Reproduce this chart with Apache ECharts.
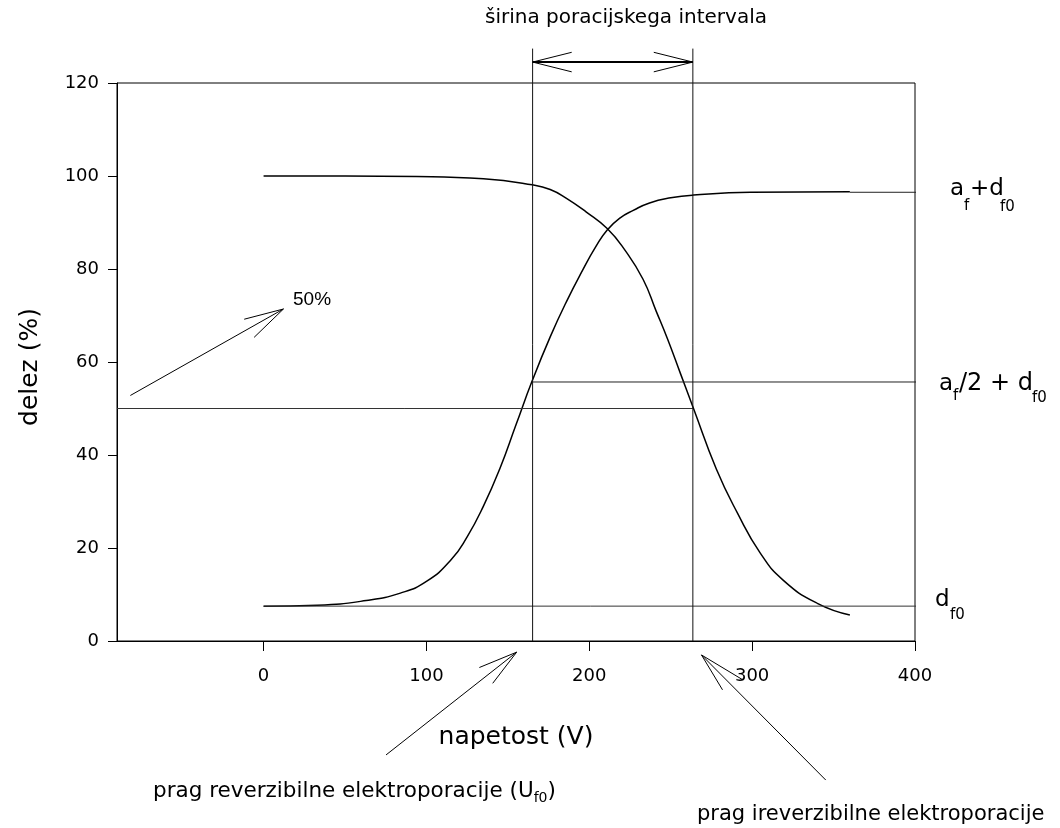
<!DOCTYPE html>
<html><head><meta charset="utf-8">
<script src="https://cdn.jsdelivr.net/npm/echarts@6/dist/echarts.min.js"></script>
<style>html,body{margin:0;padding:0;background:#fff}#c{width:1060px;height:828px}</style>
</head><body><div id="c"></div>
<script>
// ---- data ----
const xTicks = [0, 100, 200, 300, 400];
const yTicks = [0, 20, 40, 60, 80, 100, 120];
const riseX = [0, 33, 63, 84, 100, 115, 125, 135, 145, 155, 165, 176, 186, 196, 204, 211, 219, 227, 237, 250, 264, 299, 360];
const riseY = [7.5, 7.7, 8.7, 10.3, 12.8, 17.4, 22.4, 29.0, 37.0, 46.5, 56.0, 65.4, 73.0, 79.8, 84.8, 88.4, 91.0, 92.6, 94.2, 95.3, 95.9, 96.5, 96.6];
const fallX = [0, 50, 94, 135, 165, 176, 186, 198, 211, 222, 233, 241, 248, 256, 264, 278, 291, 305, 319, 340, 360];
const fallY = [100, 100, 99.9, 99.4, 98.1, 97.1, 95.2, 92.3, 88.7, 84.0, 77.8, 71.0, 65.0, 57.5, 50.0, 37.0, 27.5, 18.9, 13.1, 8.1, 5.6];
const levelTop = [[360, 96.5], [406, 96.5]];
const levelHalf = [[165.2, 55.7], [406, 55.7]];
const levelD0 = [[0, 7.5], [404, 7.5]];
const level50 = [[-90, 50], [263.6, 50]];
const vRev = [[165.2, 0], [165.2, 127.4]];
const vIrr = [[263.6, 0], [263.6, 127.4]];
const widthShaft = [[165.2, 124.5], [263.6, 124.5]];
const widthHeadL = [[189.2, 126.6], [165.2, 124.5], [189.2, 122.4]];
const widthHeadR = [[239.6, 126.6], [263.6, 124.5], [239.6, 122.4]];
const arrow50Shaft = [[-81.8, 52.8], [12.2, 71.4]];
const arrow50Head = [[-11.9, 69.2], [12.2, 71.4], [-5.8, 65.3]];
const arrowRevShaft = [[75.2, -24.5], [155.4, -2.4]];
const arrowRevHead = [[132.5, -5.7], [155.4, -2.4], [140.7, -9.1]];
const arrowIrrShaft = [[345.2, -29.9], [268.9, -3.0]];
const arrowIrrHead = [[281.8, -10.5], [268.9, -3.0], [294.5, -8.4]];

// ---- chart ----
const FONT = 'DejaVu Sans';
const zip = (xs, ys) => xs.map((x, i) => [x, ys[i]]);
function seg(data, w, color) {
  return { type: 'line', data: data, symbol: 'none', clip: false, silent: true, animation: false,
    lineStyle: { color: color || '#000', width: w || 1 } };
}
const chart = echarts.init(document.getElementById('c'), null, { renderer: 'canvas' });
const txt = (x, y, s, size, extra) => ({ type: 'text', x: x, y: y, silent: true,
  style: Object.assign({ text: s, fill: '#000', font: size + 'px "' + FONT + '"', verticalAlign: 'middle', align: 'left' }, extra || {}) });
chart.setOption({
  animation: false,
  grid: { left: 117, right: 145, top: 83, bottom: 187, show: true, borderColor: '#000', borderWidth: 1 },
  xAxis: {
    type: 'value', min: -90, max: 400,
    axisLine: { show: true, onZero: false, lineStyle: { color: '#000', width: 1 } },
    axisTick: { show: true, length: 10, customValues: xTicks, lineStyle: { color: '#000' } },
    axisLabel: { customValues: xTicks, margin: 26, fontSize: 18, fontFamily: FONT, color: '#000' },
    splitLine: { show: false }
  },
  yAxis: {
    type: 'value', min: 0, max: 120, interval: 20,
    axisLine: { show: true, onZero: false, lineStyle: { color: '#000', width: 1 } },
    axisTick: { show: true, length: 9, customValues: yTicks, lineStyle: { color: '#000' } },
    axisLabel: { customValues: yTicks, margin: 18, fontSize: 18, fontFamily: FONT, color: '#000' },
    splitLine: { show: false }
  },
  series: [
    Object.assign(seg(zip(riseX, riseY), 1.5), { smooth: 0.5 }),
    Object.assign(seg(zip(fallX, fallY), 1.5), { smooth: 0.5 }),
    seg(levelTop, 1, '#222'), seg(levelHalf, 1, '#222'), seg(levelD0, 1, '#333'), seg(level50, 1, '#333'),
    seg(vRev, 1, '#111'), seg(vIrr, 1, '#111'),
    seg(widthShaft, 2), seg(widthHeadL, 1), seg(widthHeadR, 1),
    seg(arrow50Shaft, 1), seg(arrow50Head, 1),
    seg(arrowRevShaft, 1), seg(arrowRevHead, 1),
    seg(arrowIrrShaft, 1), seg(arrowIrrHead, 1)
  ],
  graphic: [
    txt(626, 18, 'širina poracijskega intervala', 20, { align: 'center' }),
    { type: 'text', x: 30, y: 367, rotation: Math.PI / 2, silent: true,
      style: { text: 'delez (%)', fill: '#000', font: '25px "' + FONT + '"', align: 'center', verticalAlign: 'middle' } },
    txt(516, 737, 'napetost (V)', 25, { align: 'center' }),
    txt(293, 300, '50%', 19, { font: '19px "Liberation Sans"' }),
    txt(950, 189, 'a', 23), txt(964, 206, 'f', 15), txt(970, 189, '+d', 23), txt(1000, 207, 'f0', 15),
    txt(939, 384, 'a', 23), txt(953, 396, 'f', 15), txt(959, 384, '/2 + d', 24), txt(1032, 398, 'f0', 15),
    txt(935, 600, 'd', 23), txt(950, 615, 'f0', 15),
    { type: 'text', x: 153, y: 793, silent: true,
      style: { text: '{n|prag reverzibilne elektroporacije (U}{s|f0}{n|)}', fill: '#000', align: 'left', verticalAlign: 'middle',
        rich: { n: { fontSize: 21.5, fontFamily: FONT, lineHeight: 25, verticalAlign: 'top' },
                s: { fontSize: 14, fontFamily: FONT, lineHeight: 12, verticalAlign: 'bottom' } } } },
    txt(697, 815, 'prag ireverzibilne elektroporacije', 21)
  ]
});
</script>
</body></html>
